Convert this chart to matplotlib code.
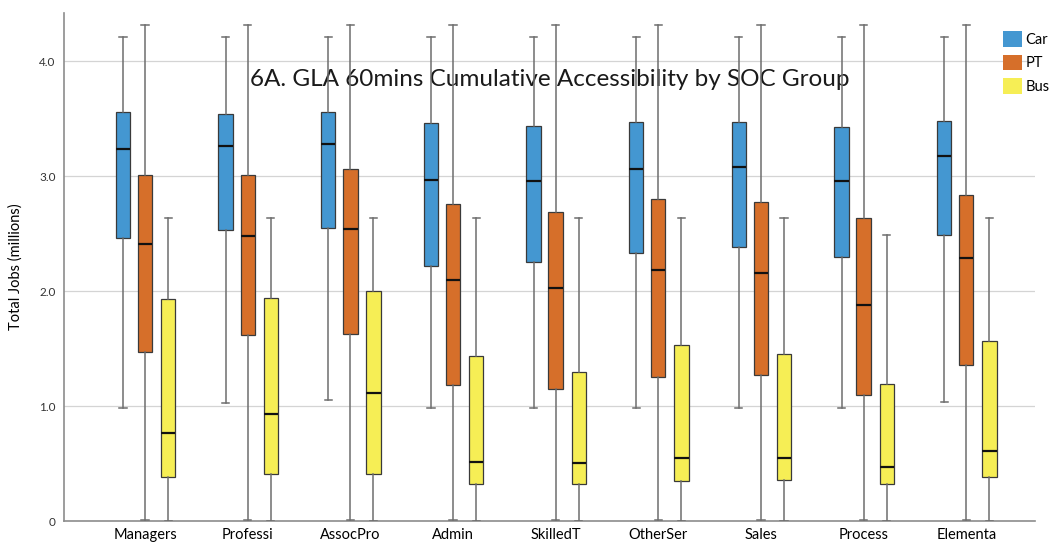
import matplotlib
matplotlib.use("Agg")
import matplotlib.pyplot as plt
from matplotlib.patches import Patch

# Occupation (SOC) groups
groups = ["Managers", "Professi", "AssocPro", "Admin", "SkilledT",
          "OtherSer", "Sales", "Process", "Elementa"]

# Jobs reachable within 60 minutes (millions): five-number summaries per mode
car_lo = [0.98, 1.03, 1.05, 0.98, 0.98, 0.98, 0.98, 0.98, 1.035]
car_q1 = [2.46, 2.53, 2.55, 2.22, 2.25, 2.33, 2.38, 2.30, 2.49]
car_med = [3.24, 3.26, 3.28, 2.97, 2.96, 3.065, 3.08, 2.96, 3.18]
car_q3 = [3.56, 3.54, 3.555, 3.46, 3.44, 3.47, 3.47, 3.43, 3.48]
car_hi = [4.21, 4.21, 4.21, 4.21, 4.21, 4.21, 4.21, 4.21, 4.21]

pt_lo = [0.01, 0.01, 0.01, 0.01, 0.01, 0.01, 0.01, 0.01, 0.01]
pt_q1 = [1.47, 1.62, 1.625, 1.18, 1.15, 1.25, 1.27, 1.095, 1.36]
pt_med = [2.41, 2.48, 2.54, 2.10, 2.03, 2.185, 2.16, 1.88, 2.29]
pt_q3 = [3.01, 3.01, 3.06, 2.76, 2.69, 2.80, 2.78, 2.64, 2.84]
pt_hi = [4.32, 4.32, 4.32, 4.32, 4.32, 4.32, 4.32, 4.32, 4.32]

bus_lo = [0.0, 0.0, 0.0, 0.0, 0.0, 0.0, 0.0, 0.0, 0.0]
bus_q1 = [0.38, 0.41, 0.41, 0.32, 0.32, 0.345, 0.354, 0.32, 0.38]
bus_med = [0.77, 0.93, 1.11, 0.51, 0.505, 0.55, 0.55, 0.47, 0.61]
bus_q3 = [1.93, 1.94, 2.00, 1.44, 1.30, 1.53, 1.45, 1.19, 1.57]
bus_hi = [2.64, 2.64, 2.64, 2.64, 2.64, 2.64, 2.64, 2.49, 2.64]

modes = ["Car", "PT", "Bus"]
mode_colors = ["#4497D1", "#D66F2A", "#F6EE55"]

series = [
    (car_lo, car_q1, car_med, car_q3, car_hi),
    (pt_lo, pt_q1, pt_med, pt_q3, pt_hi),
    (bus_lo, bus_q1, bus_med, bus_q3, bus_hi),
]

plt.rcParams["font.family"] = ["Lato", "DejaVu Sans"]

fig = plt.figure(figsize=(10.54, 5.43), dpi=100)
ax = fig.add_axes([0.0607, 0.0405, 0.9213, 0.9355])

offsets = [-0.215, 0.0, 0.225]
box_w = 0.14

for (lo, q1, med, q3, hi), off, col in zip(series, offsets, mode_colors):
    stats = []
    for i in range(len(groups)):
        stats.append(dict(whislo=lo[i], q1=q1[i], med=med[i], q3=q3[i],
                          whishi=hi[i], fliers=[]))
    pos = [i + off for i in range(len(groups))]
    ax.bxp(stats, positions=pos, widths=box_w, capwidths=0.07,
           patch_artist=True, showfliers=False, manage_ticks=False,
           boxprops=dict(facecolor=col, edgecolor="#3a3a3a", linewidth=0.9),
           whiskerprops=dict(color="#6e6e6e", linewidth=1.1),
           capprops=dict(color="#6e6e6e", linewidth=1.1),
           medianprops=dict(color="#111111", linewidth=1.6),
           zorder=3)

ax.set_xlim(-0.79, 8.67)
ax.set_ylim(0, 4.42)
ax.set_xticks(range(len(groups)))
ax.set_xticklabels(groups, fontsize=10.5)
ax.set_yticks([0, 1, 2, 3, 4])
ax.set_yticklabels(["0", "1.0", "2.0", "3.0", "4.0"], fontsize=8.5, color="#333333")
ax.tick_params(axis="both", length=0, pad=6)
ax.tick_params(axis="x", pad=5)
ax.set_ylabel("Total Jobs (millions)", fontsize=10.5, labelpad=12)

ax.grid(axis="y", color="#d4d4d4", linewidth=0.9, zorder=0)
ax.set_axisbelow(True)
for s in ["top", "right"]:
    ax.spines[s].set_visible(False)
for s in ["left", "bottom"]:
    ax.spines[s].set_color("#8c8c8c")
    ax.spines[s].set_linewidth(1.2)

ax.text(0.522, 0.853, "6A. GLA 60mins Cumulative Accessibility by SOC Group",
        transform=fig.transFigure, ha="center", va="center",
        fontsize=17.5, color="#1a1a1a", zorder=1)

handles = [Patch(facecolor=c, edgecolor="none", label=m)
           for m, c in zip(modes, mode_colors)]
fig.legend(handles=handles, loc="upper left", bbox_to_anchor=(0.950, 0.945),
           frameon=False, fontsize=10.5, handlelength=1.3, handleheight=1.3,
           handletextpad=0.25, labelspacing=0.5, borderpad=0.1,
           borderaxespad=0.0)

fig.savefig("out.png", dpi=100)
